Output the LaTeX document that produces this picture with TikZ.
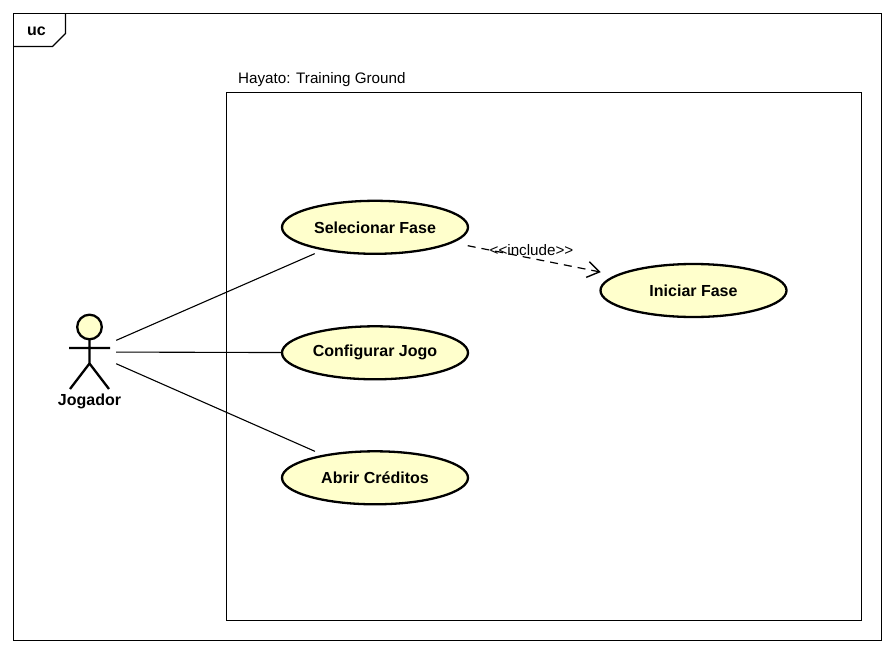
\documentclass[tikz,border=0pt]{standalone}
\usepackage{fontspec}
\setmainfont{Liberation Sans}
\usetikzlibrary{shapes.geometric,arrows.meta}
\definecolor{ucfill}{HTML}{FFFFCC}
\tikzset{
  usecase/.style={ellipse,draw=black,line width=2.3pt,fill=ucfill,minimum width=186pt,minimum height=53pt,inner sep=0pt,font=\fontsize{16pt}{18pt}\selectfont\bfseries,text=black},
  frameline/.style={draw=black,line width=1.1pt},
  assoc/.style={draw=black,line width=1.1pt},
  inc/.style={draw=black,line width=1.2pt,dash pattern=on 8pt off 6pt,shorten <=15pt,shorten >=15pt,-{Straight Barb[length=12pt,width=16pt,line width=1.4pt]}},
  actorline/.style={draw=black,line width=2.3pt},
  plain/.style={inner sep=0pt,text=black}
}
\begin{document}
\begin{tikzpicture}[x=1pt,y=-1pt]
\useasboundingbox (0,0) rectangle (894,653);
\fill[white] (0,0) rectangle (894,653);
\draw[frameline] (13.5,13.5) rectangle (881.5,640.5);
\draw[frameline] (13.5,46.5) -- (52.5,46.5) -- (65.5,33.5) -- (65.5,13.5);
\node[plain,font=\fontsize{16pt}{18pt}\selectfont\bfseries] (tab) at (36.5,31) {uc};
\draw[frameline] (226.5,92.5) rectangle (861.5,620.5);
\node[plain,anchor=base west,font=\fontsize{15.2pt}{18pt}\selectfont] (sys) at (238,83) {Hayato: Training Ground};
\node[usecase] (sel) at (375,227.3) {Selecionar Fase};
\node[usecase] (cfg) at (375,352.8) {Configurar Jogo};
\node[usecase] (cre) at (375,477.8) {Abrir Créditos};
\node[usecase] (ini) at (693.5,290.5) {Iniciar Fase};
% actor
\node[minimum width=53pt,minimum height=78pt,inner sep=0pt] (jog) at (89.5,352) {};
\draw[actorline,fill=ucfill] (89.5,327) circle (12.3pt);
\draw[actorline] (89.5,339.5) -- (89.5,363.5) (69,348) -- (110,348)
  (70,389) -- (89.5,363.5) -- (109,389);
\node[plain,font=\fontsize{16pt}{18pt}\selectfont\bfseries] (jogl) at (89.5,401.5) {Jogador};
% connectors
\draw[assoc,shorten >=8.5pt] (jog) -- (sel);
\draw[assoc] (jog) -- (cfg);
\draw[assoc,shorten >=8.5pt] (jog) -- (cre);
\draw[inc] (sel) -- (ini);
\node[plain,font=\fontsize{15.2pt}{18pt}\selectfont] (lab) at (531.5,250.5) {<{}<include>{}>};
\end{tikzpicture}
\end{document}
